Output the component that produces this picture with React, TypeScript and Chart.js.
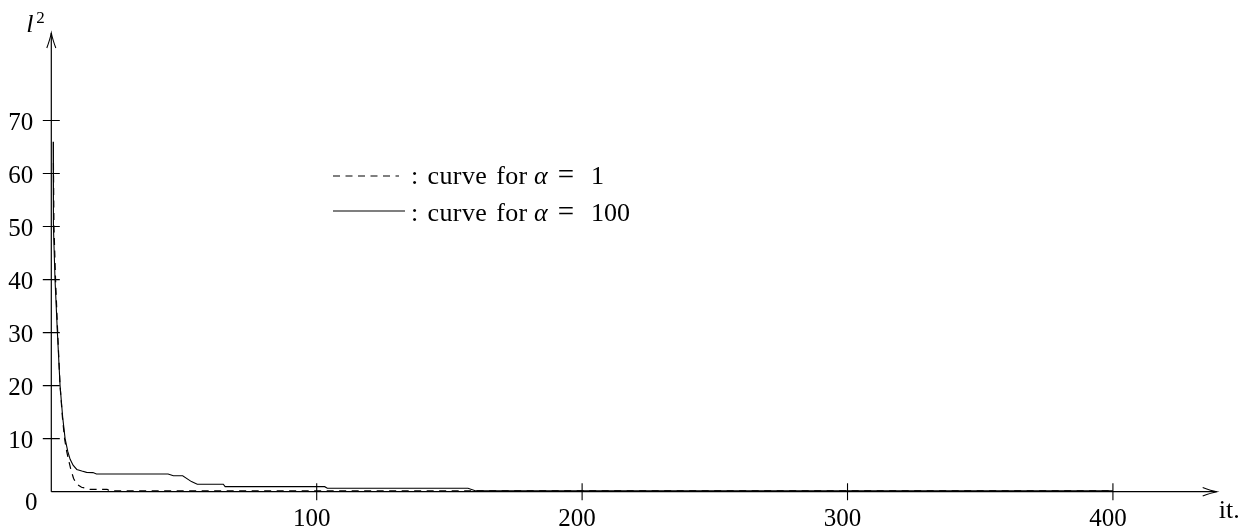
import { useEffect, useRef } from 'react';
import { Chart, registerables } from 'chart.js';

Chart.register(...registerables);

// ---- data ----
const alpha1X = [0.8, 1.0, 1.6, 2.4, 3.3, 4.2, 5.0, 5.8, 6.6, 7.4, 8.4, 9.5, 11.4, 14.6, 21, 22, 400];
const alpha1Y = [62, 50, 40, 30, 20, 14, 10, 7.6, 5.8, 4.1, 2.5, 1.45, 0.83, 0.45, 0.45, 0.15, 0.15];

const alpha100X = [0.7, 0.8, 1.4, 2.3, 3.3, 4.3, 5.2, 6.2, 7.1, 8.2, 9.6, 11.5, 13.3, 15.7, 17, 44, 46, 49.5, 52.8, 55, 64.8, 65.5, 103, 104, 157, 160, 400];
const alpha100Y = [66, 50, 40, 30, 20, 14, 10, 7.6, 6.1, 5.0, 4.2, 3.9, 3.65, 3.6, 3.35, 3.35, 3.0, 3.0, 1.9, 1.4, 1.4, 0.95, 0.95, 0.64, 0.64, 0.15, 0.15];

const seriesAlphas = ['1', '100'];
const xTickValues = [100, 200, 300, 400];
const yTickValues = [10, 20, 30, 40, 50, 60, 70];
const originLabel = '0';
const xAxisTitle = 'it.';
const yAxisTitleBase = 'l';
const yAxisTitleSup = '2';
const legendText = ': curve for';
const legendVar = 'α';
const X_MAX = 439.1;
const Y_MAX = 86.5;

const SERIF = "'Liberation Serif', 'Times New Roman', serif";

const texAxes = {
  id: 'texAxes',
  beforeDatasetsDraw(chart: any) {
    const ctx = chart.ctx as CanvasRenderingContext2D;
    const xs = chart.scales.x;
    const ys = chart.scales.y;
    const x0 = xs.getPixelForValue(0);
    const y0 = ys.getPixelForValue(0);
    const xEnd = xs.getPixelForValue(X_MAX);
    const yEnd = ys.getPixelForValue(Y_MAX);
    ctx.save();
    ctx.strokeStyle = '#000';
    ctx.fillStyle = '#000';
    ctx.lineWidth = 1.2;
    ctx.beginPath();
    ctx.moveTo(x0, y0);
    ctx.lineTo(xEnd, y0);
    ctx.moveTo(x0, y0);
    ctx.lineTo(x0, yEnd);
    ctx.stroke();

    // arrow heads (TikZ "to" style)
    ctx.lineWidth = 1.1;
    ctx.beginPath();
    ctx.moveTo(x0 - 4.5, yEnd + 15);
    ctx.quadraticCurveTo(x0 - 1.2, yEnd + 6, x0, yEnd);
    ctx.quadraticCurveTo(x0 + 1.2, yEnd + 6, x0 + 4.5, yEnd + 15);
    ctx.moveTo(xEnd - 14, y0 - 4.3);
    ctx.quadraticCurveTo(xEnd - 5.5, y0 - 1.1, xEnd, y0);
    ctx.quadraticCurveTo(xEnd - 5.5, y0 + 1.1, xEnd - 14, y0 + 4.3);
    ctx.stroke();

    // ticks
    ctx.lineWidth = 1.1;
    ctx.beginPath();
    xTickValues.forEach((v) => {
      const px = xs.getPixelForValue(v);
      ctx.moveTo(px, y0 - 8.5);
      ctx.lineTo(px, y0 + 8.5);
    });
    yTickValues.forEach((v) => {
      const py = ys.getPixelForValue(v);
      ctx.moveTo(x0 - 8.5, py);
      ctx.lineTo(x0 + 8.5, py);
    });
    ctx.stroke();

    // tick labels
    ctx.font = `25px ${SERIF}`;
    ctx.textBaseline = 'alphabetic';
    ctx.textAlign = 'center';
    xTickValues.forEach((v) => {
      const px = xs.getPixelForValue(v);
      ctx.fillText(String(v), px - 5, 526);
    });
    ctx.textAlign = 'right';
    yTickValues.forEach((v) => {
      const py = ys.getPixelForValue(v);
      ctx.fillText(String(v), x0 - 18, py + 9.5);
    });
    ctx.textAlign = 'center';
    ctx.fillText(originLabel, x0 - 20, y0 + 18);

    // axis titles
    ctx.textAlign = 'left';
    ctx.font = `26px ${SERIF}`;
    ctx.fillText(xAxisTitle, xEnd + 2, y0 + 26);
    ctx.font = `italic 26px ${SERIF}`;
    ctx.fillText(yAxisTitleBase, x0 - 25, yEnd - 1);
    ctx.font = `17px ${SERIF}`;
    ctx.fillText(yAxisTitleSup, x0 - 15, yEnd - 10.5);
    ctx.restore();
  },
  afterDatasetsDraw(chart: any) {
    const ctx = chart.ctx as CanvasRenderingContext2D;
    const rows = [176, 211];
    ctx.save();
    ctx.fillStyle = '#000';
    ctx.strokeStyle = '#000';
    chart.data.datasets.forEach((ds: any, i: number) => {
      const y = rows[i];
      ctx.lineWidth = 1.1;
      ctx.setLineDash(ds.borderDash || []);
      ctx.beginPath();
      ctx.moveTo(333, y);
      ctx.lineTo(ds.borderDash && ds.borderDash.length ? 399 : 405, y);
      ctx.stroke();
      ctx.setLineDash([]);
      const base = y + 7.5 + (i === 1 ? 2 : 0);
      ctx.textAlign = 'left';
      ctx.textBaseline = 'alphabetic';
      ctx.font = `26px ${SERIF}`;
      (ctx as any).letterSpacing = '0.4px';
      (ctx as any).wordSpacing = '2px';
      ctx.fillText(legendText, 411, base);
      (ctx as any).letterSpacing = '0px';
      (ctx as any).wordSpacing = '0px';
      ctx.font = `italic 26px ${SERIF}`;
      ctx.fillText(legendVar, 534, base);
      ctx.font = `29px ${SERIF}`;
      ctx.textAlign = 'center';
      ctx.fillText('=', 566, base + 0.5);
      ctx.textAlign = 'left';
      ctx.font = `26px ${SERIF}`;
      ctx.fillText(seriesAlphas[i], 591, base);
    });
    ctx.restore();
  },
};

export default function App() {
  const ref = useRef<HTMLCanvasElement | null>(null);
  useEffect(() => {
    if (!ref.current) return;
    const chart = new Chart(ref.current, {
      type: 'line',
      data: {
        datasets: [
          {
            label: 'α = ' + seriesAlphas[0],
            data: alpha1X.map((x, i) => ({ x, y: alpha1Y[i] })),
            borderColor: '#000',
            borderWidth: 1.2,
            borderDash: [7, 5.5],
            pointRadius: 0,
            tension: 0,
            fill: false,
            clip: false as any,
          },
          {
            label: 'α = ' + seriesAlphas[1],
            data: alpha100X.map((x, i) => ({ x, y: alpha100Y[i] })),
            borderColor: '#000',
            borderWidth: 1.1,
            pointRadius: 0,
            tension: 0,
            fill: false,
            clip: false as any,
          },
        ],
      },
      options: {
        animation: false,
        responsive: false,
        maintainAspectRatio: false,
        layout: { padding: { left: 51.3, right: 28.3, top: 33, bottom: 35.3 } },
        scales: {
          x: { type: 'linear', min: 0, max: X_MAX, display: false },
          y: { type: 'linear', min: 0, max: Y_MAX, display: false },
        },
        plugins: { legend: { display: false }, tooltip: { enabled: false } },
        events: [],
      },
      plugins: [texAxes],
    } as any);
    return () => chart.destroy();
  }, []);
  return (
    <div style={{ position: 'absolute', left: 0, top: 0, width: 1245, height: 527, background: '#fff' }}>
      <canvas ref={ref} width={1245} height={527} style={{ display: 'block' }} />
    </div>
  );
}
